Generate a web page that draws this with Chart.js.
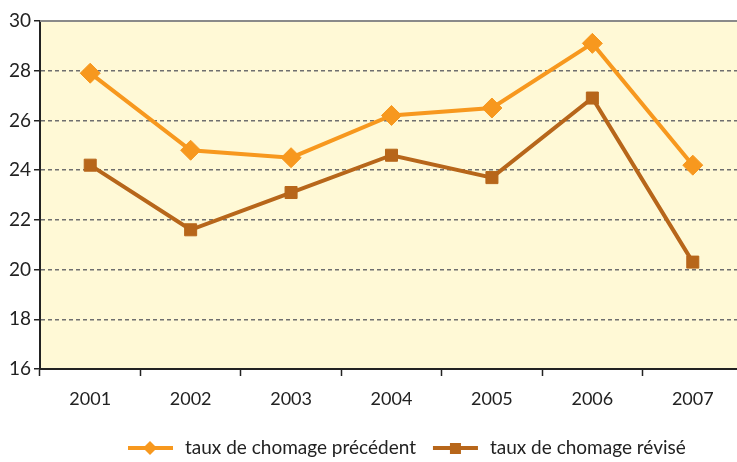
<!DOCTYPE html>
<html>
<head>
<meta charset="utf-8">
<script src="https://cdn.jsdelivr.net/npm/chart.js@4.4.1/dist/chart.umd.min.js"></script>
<style>
  html, body { margin: 0; padding: 0; background: #fff; overflow: hidden; }
  #graf { display: block; }
</style>
</head>
<body>
<canvas id="graf" width="754" height="462"></canvas>
<script>
// ======================================
// DONNEES
// ======================================

const annees = ["2001", "2002", "2003", "2004", "2005", "2006", "2007"];
const tauxPrecedent = [27.9, 24.8, 24.5, 26.2, 26.5, 29.1, 24.2];
const tauxRevise = [24.2, 21.6, 23.1, 24.6, 23.7, 26.9, 20.3];
const ticksY = [16, 18, 20, 22, 24, 26, 28, 30];

const orange = "#F7981E";
const brun = "#B7661A";
const police = "Lato, 'Open Sans', sans-serif";

// ======================================
// FOND + BORD HAUT + LEGENDE
// ======================================

const decor = {
  id: "decor",
  beforeDraw(chart) {
    const a = chart.chartArea;
    const ctx = chart.ctx;
    ctx.save();
    ctx.fillStyle = "#FFF9D6";
    ctx.fillRect(a.left, a.top, a.right - a.left, a.bottom - a.top);
    ctx.restore();
  },
  afterDraw(chart) {
    const a = chart.chartArea;
    const ctx = chart.ctx;
    ctx.save();
    ctx.strokeStyle = "#8a8a8a";
    ctx.lineWidth = 2;
    ctx.beginPath();
    ctx.moveTo(a.left, a.top);
    ctx.lineTo(a.right, a.top);
    ctx.stroke();

    // legende
    ctx.font = "19px " + police;
    ctx.textBaseline = "middle";
    let x = 128;
    const y = 448;
    chart.data.datasets.forEach(ds => {
      ctx.strokeStyle = ds.borderColor;
      ctx.lineWidth = 4;
      ctx.beginPath();
      ctx.moveTo(x, y);
      ctx.lineTo(x + 45, y);
      ctx.stroke();
      ctx.fillStyle = ds.borderColor;
      ctx.beginPath();
      if (ds.pointStyle === "rectRot") {
        ctx.moveTo(x + 22, y - 7);
        ctx.lineTo(x + 29, y);
        ctx.lineTo(x + 22, y + 7);
        ctx.lineTo(x + 15, y);
        ctx.closePath();
      } else {
        ctx.rect(x + 17, y - 5, 11, 11);
      }
      ctx.fill();
      ctx.fillStyle = "#222";
      ctx.fillText(ds.label, x + 57, y);
      x += 57 + ctx.measureText(ds.label).width + 17;
    });
    ctx.restore();
  }
};

// ======================================
// GRAPHIQUE
// ======================================

new Chart(document.getElementById("graf"), {
  type: "line",
  data: {
    labels: annees,
    datasets: [{
      label: "taux de chomage précédent",
      data: tauxPrecedent,
      borderColor: orange,
      backgroundColor: orange,
      borderWidth: 4,
      pointStyle: "rectRot",
      pointRadius: 10,
      pointHoverRadius: 10,
      pointBorderWidth: 1,
      tension: 0
    }, {
      label: "taux de chomage révisé",
      data: tauxRevise,
      borderColor: brun,
      backgroundColor: brun,
      borderWidth: 4,
      pointStyle: "rect",
      pointRadius: 8.5,
      pointHoverRadius: 8.5,
      pointBorderWidth: 1,
      tension: 0
    }]
  },
  options: {
    responsive: false,
    animation: false,
    layout: { padding: { top: 21, right: 3, left: 0, bottom: 0 } },
    plugins: {
      legend: { display: false },
      tooltip: { enabled: false }
    },
    scales: {
      x: {
        offset: true,
        grid: {
          offset: true,
          drawOnChartArea: false,
          tickLength: 7,
          tickColor: "#222",
          tickWidth: 1.5
        },
        border: { color: "#222", width: 2 },
        ticks: {
          color: "#222",
          padding: 12,
          font: { family: police, size: 18 }
        },
        afterFit(scale) { scale.height = 93; }
      },
      y: {
        min: 16,
        max: 30,
        afterBuildTicks(scale) { scale.ticks = ticksY.map(v => ({ value: v })); },
        grid: {
          color: "#6f6f6f",
          lineWidth: 1.5,
          tickLength: 6,
          tickColor: "#222",
          tickWidth: 1.5
        },
        border: { color: "#222", width: 2, dash: [4, 3] },
        ticks: {
          color: "#222",
          padding: 3,
          font: { family: police, size: 19 }
        },
        afterFit(scale) { scale.width = 40; }
      }
    }
  },
  plugins: [decor]
});
</script>
</body>
</html>
